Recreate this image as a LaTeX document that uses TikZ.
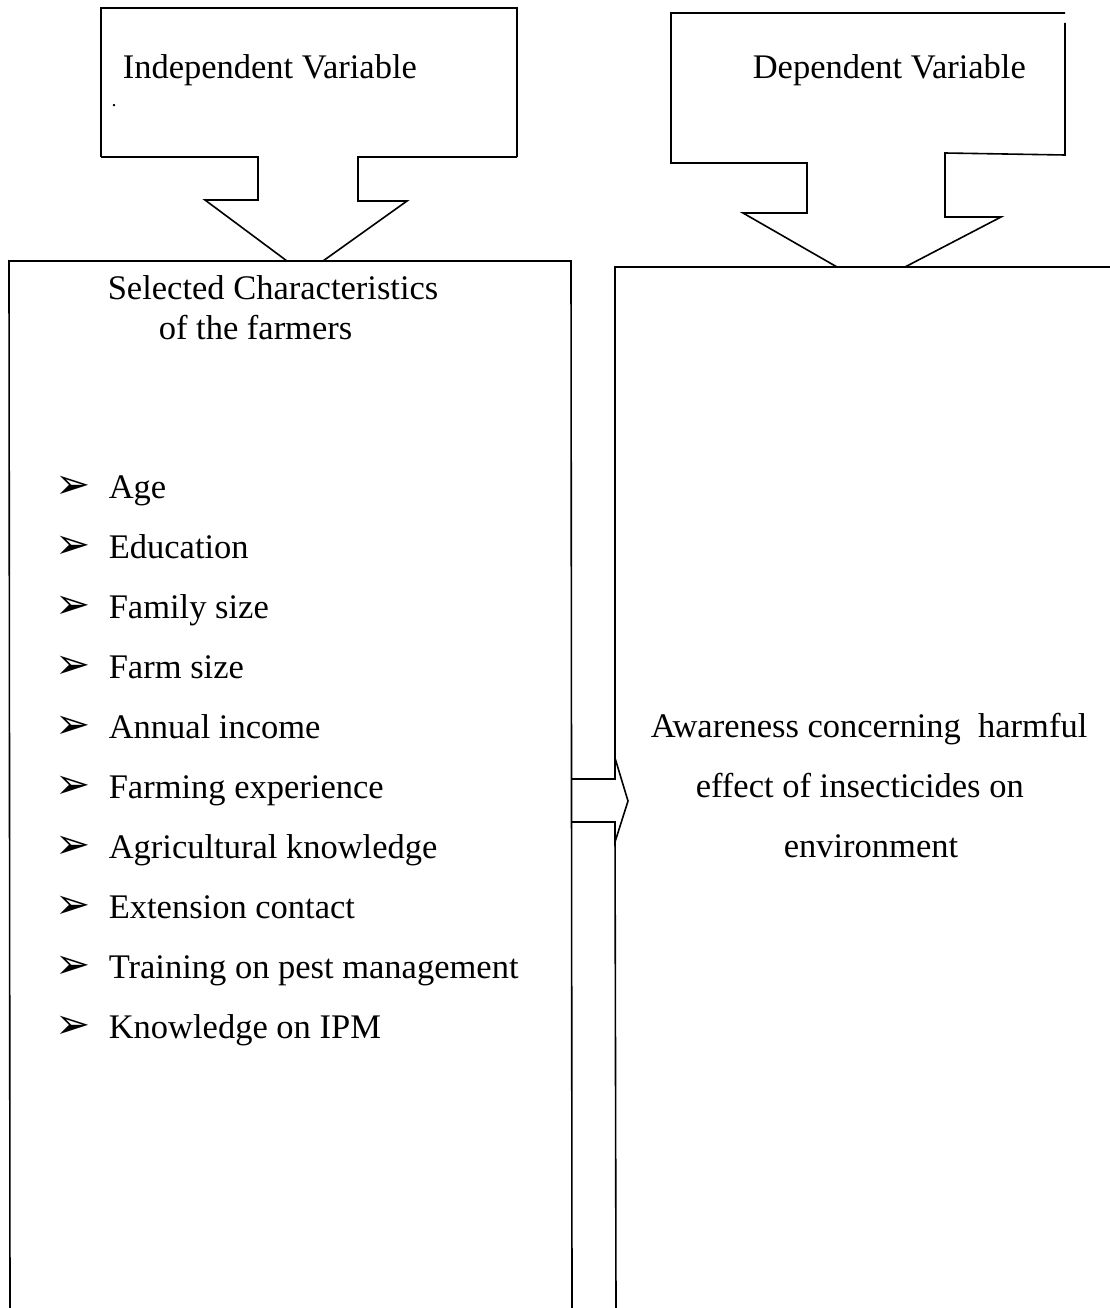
\documentclass[tikz,border=0pt]{standalone}
\usepackage{fontspec}
\setmainfont{Liberation Serif}
\newfontfamily\symfont{DejaVu Sans}
\begin{document}
\begin{tikzpicture}[x=1pt,y=-1pt, line width=1.6pt, line join=miter,
  lbl/.style={anchor=base west, inner sep=0pt, font=\fontsize{34.5}{40}\selectfont},
  bul/.style={anchor=center, inner sep=0pt, font=\symfont\fontsize{42}{42}\selectfont},
  outl/.style={draw=black, line width=1.6pt}]
\useasboundingbox[fill=white] (0,0) rectangle (1110,1308);

% ---- Independent variable callout
\coordinate (ia) at (101,8);   \coordinate (ib) at (517,8);
\coordinate (ic) at (517,157); \coordinate (id) at (358,157);
\coordinate (ie) at (358,201); \coordinate (if) at (407,201);
\coordinate (ig) at (323,261); \coordinate (ih) at (287,261);
\coordinate (ii) at (205,200); \coordinate (ij) at (258,200);
\coordinate (ik) at (258,157); \coordinate (il) at (101,157);
\draw[outl] (il) -- (ia) -- (ib) -- (ic);
\draw[outl] (ic) -- (id) -- (ie) -- (if) -- (ig);
\draw[outl] (ih) -- (ii) -- (ij) -- (ik) -- (il);
\node[lbl] (indep) at (122,79) {Independent Variable};
\node[inner sep=0pt, font=\fontsize{20}{20}\selectfont, anchor=base] (dot) at (114,107) {.};

% ---- Dependent variable callout
\coordinate (da) at (671,13);   \coordinate (db) at (1065,13);
\coordinate (dc) at (1065,23);  \coordinate (dd) at (1065,155);
\coordinate (de) at (945,153);  \coordinate (df) at (945,217);
\coordinate (dg) at (1001,217); \coordinate (dh) at (905,267);
\coordinate (di) at (837,267);  \coordinate (dj) at (743,213);
\coordinate (dk) at (807,213);  \coordinate (dl) at (807,163);
\coordinate (dm) at (671,163);
\draw[outl] (db) -- (da) -- (dm) -- (dl) -- (dk) -- (dj) -- (di);
\draw[outl] (dc) -- (dd) -- (de) -- (df) -- (dg) -- (dh);
\node[lbl] (dep) at (752,79) {Dependent Variable};

% ---- Left big box
\coordinate (la) at (10,1310); \coordinate (lb) at (9,261);
\coordinate (lc) at (571,261); \coordinate (ld) at (572,1310);
\draw[outl] (la) -- (lb) -- (lc) -- (ld);
\node[lbl] (sel1) at (107,299) {Selected Characteristics};
\node[lbl] (sel2) at (158,339) {of the farmers};

\foreach \t [count=\i] in {Age, Education, Family size, Farm size, Annual income,
  Farming experience, Agricultural knowledge, Extension contact,
  Training on pest management, Knowledge on IPM} {
  \pgfmathsetmacro{\yy}{498+60*(\i-1)}
  \node[bul] (b\i) at (73,\yy-11) {➢};
  \node[lbl] (item\i) at (108,\yy) {\t};
}

% ---- Right big box
\coordinate (ra) at (1112,267); \coordinate (rb) at (615,267);
\coordinate (rc) at (615,779);  \coordinate (rd) at (615,822);
\coordinate (re) at (616,1310);
\draw[outl] (ra) -- (rb) -- (rc);
\draw[outl] (rd) -- (re);

% ---- middle arrow
\coordinate (ma) at (572,779); \coordinate (mb) at (572,822);
\coordinate (mc) at (615,758); \coordinate (md) at (628,801);
\coordinate (me) at (615,842);
\draw[outl] (ma) -- (rc) -- (mc) -- (md) -- (me) -- (rd) -- (mb);

\node[lbl] (aw1) at (650,737) {Awareness concerning\ \ harmful};
\node[lbl] (aw2) at (695,797) {effect of insecticides on};
\node[lbl] (aw3) at (783,857) {environment};
\end{tikzpicture}
\end{document}
